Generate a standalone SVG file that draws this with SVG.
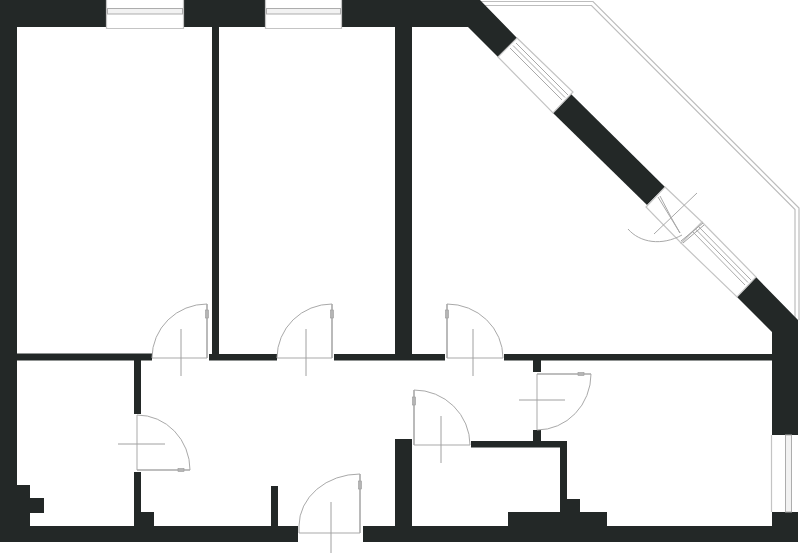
<svg xmlns="http://www.w3.org/2000/svg" width="800" height="553" viewBox="0 0 800 553">
<style>
.wall{fill:#232827}
.thin{fill:none;stroke:#a9a9a9;stroke-width:1}
.frame{fill:#fff;stroke:#c4c4c4;stroke-width:1.2}
.pane{fill:#f2f2f2;stroke:#adadad;stroke-width:1}
.leaf{fill:none;stroke:#a9a9a9;stroke-width:1.6}
.tick{fill:none;stroke:#a0a0a0;stroke-width:1}
.handle{fill:#b5b5b5;stroke:#999;stroke-width:.6}
.bal{fill:none;stroke:#bdbdbd;stroke-width:1.2}
.cover{fill:#fff}
</style>
<rect width="800" height="553" fill="#fff"/>
<g id="balcony">
<path class="bal" d="M480 1.500H593L799 208V320"/>
<path class="bal" d="M480 5.500H591.500L795 209.500V322"/>
</g>
<g id="walls">
<path class="wall" d="M0 0H106V27H17V353.500H152V360.500H141V414H134V360.500H17V485H30V498H44V513H30V526H134V472H141V512H154V526H271V486H278V526H298V542H0Z"/>
<path class="wall" d="M184 0H265V27H219V354H277V360.500H209V354H212V27H184Z"/>
<path class="wall" d="M342 0H480L517 38L498 57L468 27H412V354H445V360.500H334V354H395V27H342Z"/>
<path class="wall" d="M571 94L665 187L647 205L553 113Z"/>
<path class="wall" d="M756 277L798 320V435H772V332L737 297Z"/>
<path class="wall" d="M504 354H772V360.500H541V372H533V360.500H504Z"/>
<path class="wall" d="M533 430H541V441H567V499H580V512H607V526H772V512H798V542H363V526H395V439H412V526H508V512H560V447.500H471V441H533Z"/>
</g>
<g id="window-top-1">
<path class="frame" d="M106.500 0V28.500H183.500V0"/>
<rect class="pane" x="107.500" y="8.500" width="75" height="5.500"/>
</g>
<g id="window-top-2">
<path class="frame" d="M265.500 0V28.500H341.500V0"/>
<rect class="pane" x="266.500" y="8.500" width="74" height="5.500"/>
</g>
<g id="window-right">
<rect class="cover" x="772" y="435" width="26" height="77"/>
<path class="frame" d="M771.500 435V512"/>
<rect class="pane" x="785.500" y="435" width="6" height="77"/>
</g>
<g id="window-diag-1">
<path class="frame" d="M517 38L573 92L553 113L498 57Z"/>
<path class="thin" d="M510 48L562 100M513 45.500L565 97.500M516 43L568 95"/>
</g>
<g id="window-diag-2">
<path class="frame" d="M702 222L756 277L737 297L681 243Z"/>
<path class="thin" d="M692 231L745 285M695 228.500L748 282.500M698 226L751 280"/>
</g>
<g id="door-diag">
<path class="frame" d="M665 187L702 222L681 243L646 207Z"/>
<path class="thin" d="M658 197L680 233M660 196L672 219L680 233"/>
<path class="thin" d="M697 193L654 234"/>
<path class="thin" d="M628 229C640 243 662 246 682 235"/>
<path class="tick" d="M681 241L703 223M683 243L704 225"/>
</g>
<g id="door-1">
<path class="thin" d="M152 358H207M152 358A55 54 0 0 1 207 304"/>
<path class="leaf" d="M207 304V358"/>
<path class="tick" d="M181 329V376"/>
<rect class="handle" x="205.500" y="310" width="3" height="8"/>
</g>
<g id="door-2">
<path class="thin" d="M277 358H332M277 358A55 54 0 0 1 332 304"/>
<path class="leaf" d="M332 304V358"/>
<path class="tick" d="M306 329V376"/>
<rect class="handle" x="330.500" y="310" width="3" height="8"/>
</g>
<g id="door-3">
<path class="thin" d="M447 358H503M503 358A56 54 0 0 0 447 304"/>
<path class="leaf" d="M447 304V358"/>
<path class="tick" d="M473 329V376"/>
<rect class="handle" x="445.500" y="310" width="3" height="8"/>
</g>
<g id="door-4">
<path class="thin" d="M414 445H470M470 445A56 55 0 0 0 414 390"/>
<path class="leaf" d="M414 390V445"/>
<path class="tick" d="M441 416V463"/>
<rect class="handle" x="412.500" y="397" width="3" height="8"/>
</g>
<g id="door-5">
<path class="thin" d="M537 374V430M537 430A54 56 0 0 0 591 374"/>
<path class="leaf" d="M537 374H591"/>
<path class="tick" d="M519 400H565"/>
<rect class="handle" x="578" y="372.500" width="6" height="3"/>
</g>
<g id="door-6">
<path class="thin" d="M137 415V470M137 415A53 55 0 0 1 190 470"/>
<path class="leaf" d="M137 470H190"/>
<path class="tick" d="M118 444H165"/>
<rect class="handle" x="178" y="468.500" width="6" height="3"/>
</g>
<g id="door-7">
<path class="thin" d="M299 533H360M299 526A61 52 0 0 1 360 474"/>
<path class="thin" d="M299 526V533"/>
<path class="leaf" d="M360 474V533"/>
<path class="tick" d="M331 502V553"/>
<rect class="handle" x="358.500" y="481" width="3" height="8"/>
</g>
</svg>
